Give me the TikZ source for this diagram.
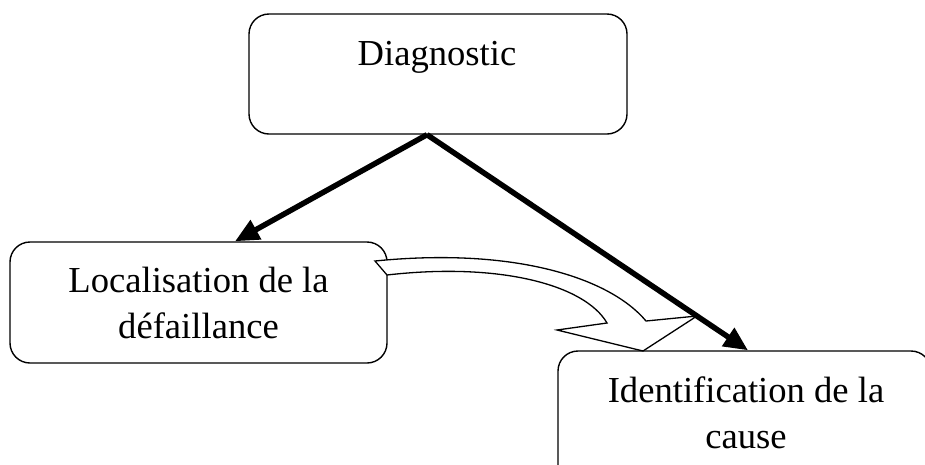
\documentclass[tikz,border=0pt]{standalone}
\usepackage{fontspec}
\setmainfont{Liberation Serif}
\usetikzlibrary{arrows.meta,calc}
\begin{document}
\begin{tikzpicture}[x=1pt,y=-1pt,
  box/.style={draw, line width=1.4pt, rounded corners=20pt, inner sep=0pt},
  lbl/.style={font=\fontsize{36.6}{46}\selectfont, align=center, inner sep=0pt},
  link/.style={line width=5.5pt, -{Triangle[length=24pt,width=21pt]}},
  flow/.style={draw, fill=white, line width=1.3pt, line join=miter}]
\clip (0,0) rectangle (925,464);
\useasboundingbox (0,0) rectangle (925,464);

% boxes
\node[box, minimum width=378pt, minimum height=120pt] (diag) at (438,74) {};
\node[box, minimum width=377pt, minimum height=121pt] (loc) at (198.5,302.5) {};
\node[box, minimum width=373pt, minimum height=169pt] (ident) at (744.5,435.5) {};

% texts (base anchor sits on the last line)
\node[lbl, anchor=base] (dtxt) at (437,65) {Diagnostic};
\node[lbl, anchor=base] (ltxt) at (198.5,338) {Localisation de la\\défaillance};
\node[lbl, anchor=base] (itxt) at (746,448) {Identification de la\\cause};

% hollow curved arrow from localisation towards identification
\path[flow] (375,261) .. controls (515,247) and (610,278) .. (646,321)
  -- (697,316) -- (643,351) -- (557,330) -- (607,323)
  .. controls (585,285) and (500,262) .. (387,275) -- cycle;

% thick connectors
\draw[link] ($(diag.south)+(-11,0)$) -- ($(loc.north)+(36.5,0)$);
\draw[link] ($(diag.south)+(-11,0)$) -- ($(ident.north)+(3.5,0)$);
\end{tikzpicture}
\end{document}
